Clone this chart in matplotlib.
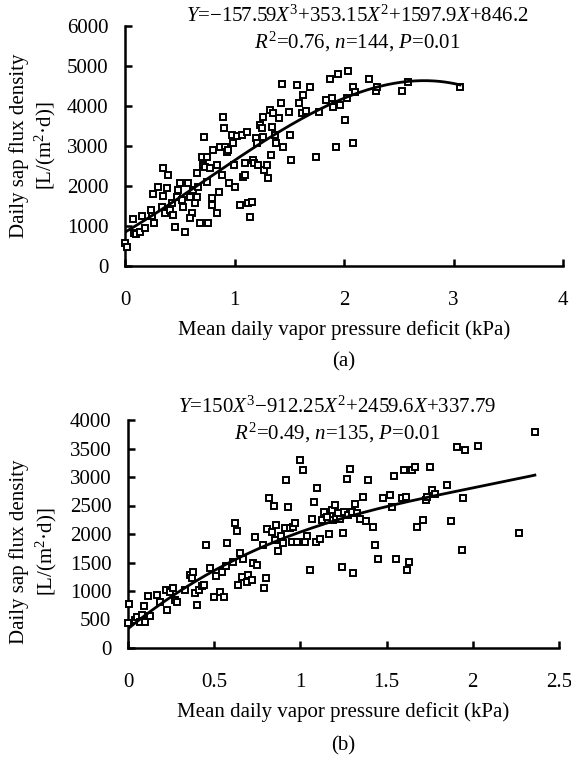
import numpy as np
import matplotlib.pyplot as plt

plt.rcParams['font.family'] = 'Liberation Serif'
plt.rcParams['mathtext.fontset'] = 'custom'
plt.rcParams['mathtext.rm'] = 'Liberation Serif'
plt.rcParams['mathtext.it'] = 'Liberation Serif:italic'
plt.rcParams['font.size'] = 15

# (a) VPD (kPa) и суточный поток сока
vpd_a = [0.000, 0.021, 0.070, 0.082, 0.100, 0.137, 0.152, 0.183, 0.235, 0.244,
         0.268, 0.259, 0.304, 0.344, 0.381, 0.350, 0.396, 0.335, 0.365, 0.411,
         0.426, 0.441, 0.457, 0.472, 0.487, 0.502, 0.518, 0.533, 0.548, 0.578,
         0.594, 0.609, 0.594, 0.624, 0.639, 0.655, 0.670, 0.685, 0.655, 0.700,
         0.710, 0.721, 0.731, 0.746, 0.761, 0.746, 0.776, 0.792, 0.792, 0.807,
         0.837, 0.843, 0.861, 0.868, 0.883, 0.898, 0.904, 0.913, 0.928, 0.944,
         0.953, 0.974, 0.983, 0.995, 1.005, 1.020, 1.050, 1.066, 1.075, 1.096,
         1.096, 1.111, 1.126, 1.142, 1.157, 1.166, 1.178, 1.196, 1.203, 1.218,
         1.233, 1.248, 1.257, 1.263, 1.269, 1.294, 1.309, 1.324, 1.330, 1.340,
         1.354, 1.370, 1.379, 1.409, 1.422, 1.431, 1.446, 1.501, 1.507, 1.519,
         1.568, 1.592, 1.613, 1.628, 1.653, 1.689, 1.744, 1.774, 1.836, 1.872,
         1.887, 1.902, 1.927, 1.948, 1.963, 2.009, 2.039, 2.030, 2.080, 2.085,
         2.100, 2.230, 2.290, 2.300, 2.530, 2.580, 3.060]
flux_a = [580, 470, 1170, 830, 800, 860, 1250, 940, 1400, 1250,
          1070, 1800, 1970, 1750, 1940, 2440, 2280, 1480, 1320, 1400,
          1570, 1280, 980, 1730, 1900, 2070, 1650, 1480, 860, 2070,
          1730, 1320, 1190, 1900, 1570, 1730, 1980, 1070, 2320, 2730,
          2530, 3220, 2480, 2730, 1070, 2110, 2440, 1690, 1530, 2900,
          2530, 1330, 1860, 2980, 2280, 3730, 3440, 2980, 2860, 2900,
          2080, 3280, 3070, 2530, 1970, 3250, 1530, 3280, 2230, 2570,
          2280, 3360, 1570, 1230, 1610, 2650, 2570, 3190, 3070, 2530,
          3520, 3440, 3730, 3220, 2400, 2530, 2190, 3900, 2780, 3480,
          3820, 3280, 3070, 3690, 4070, 4550, 2970, 3840, 3280, 2650,
          4530, 4080, 3830, 4280, 3880, 4480, 2720, 3860, 4150, 4680,
          4210, 3970, 2980, 4800, 4030, 3650, 4880, 4210, 3070, 4470,
          4360, 4680, 4380, 4480, 4380, 4600, 4470]
coef_a = [-157.59, 353.15, 1597.9, 846.2]

# (b)
vpd_b = [0.000, 0.008, 0.041, 0.054, 0.070, 0.079, 0.093, 0.099, 0.118, 0.128,
         0.166, 0.186, 0.220, 0.228, 0.244, 0.263, 0.273, 0.286, 0.331, 0.360,
         0.369, 0.379, 0.389, 0.398, 0.414, 0.427, 0.441, 0.452, 0.476, 0.499,
         0.510, 0.534, 0.543, 0.557, 0.568, 0.576, 0.611, 0.621, 0.630, 0.640,
         0.650, 0.659, 0.669, 0.688, 0.698, 0.717, 0.727, 0.737, 0.750, 0.781,
         0.789, 0.800, 0.805, 0.820, 0.834, 0.847, 0.853, 0.858, 0.872, 0.886,
         0.897, 0.911, 0.916, 0.930, 0.940, 0.950, 0.959, 0.969, 0.979, 1.000,
         1.017, 1.027, 1.040, 1.056, 1.066, 1.079, 1.090, 1.098, 1.114, 1.124,
         1.137, 1.152, 1.168, 1.182, 1.191, 1.201, 1.206, 1.220, 1.230, 1.240,
         1.249, 1.253, 1.269, 1.278, 1.288, 1.297, 1.303, 1.317, 1.326, 1.346,
         1.361, 1.381, 1.394, 1.419, 1.433, 1.452, 1.481, 1.520, 1.530, 1.543,
         1.555, 1.587, 1.601, 1.613, 1.620, 1.632, 1.650, 1.665, 1.678, 1.713,
         1.729, 1.736, 1.752, 1.761, 1.781, 1.852, 1.874, 1.910, 1.935, 1.941,
         1.955, 2.032, 2.270, 2.361]
flux_b = [430, 770, 500, 550, 460, 580, 740, 460, 910, 560,
          930, 810, 1010, 670, 990, 1060, 840, 800, 1020, 1280,
          1220, 1340, 960, 750, 1020, 1080, 1110, 1810, 1400, 900,
          1260, 990, 1340, 890, 1430, 1840, 1510, 2190, 2060, 1110,
          1660, 1250, 1560, 1160, 1280, 1190, 1490, 1950, 1460, 1810,
          1050, 1220, 2080, 2630, 2040, 2490, 1890, 2160, 1710, 1960,
          1840, 2100, 2940, 2480, 2100, 1860, 2130, 2200, 1860, 3300,
          3130, 1860, 1960, 1360, 2260, 2570, 1860, 2800, 1920, 2250,
          2390, 2300, 2000, 2420, 2250, 2510, 2290, 2370, 2260, 1420,
          2020, 2390, 2960, 2330, 3140, 2390, 1320, 2520, 2370, 2260,
          2650, 2230, 2940, 2120, 1800, 1560, 2630, 2680, 2470, 3010,
          1570, 2630, 3130, 2650, 1360, 1510, 3130, 3180, 2120, 2250,
          2600, 2650, 3180, 2770, 2710, 2860, 2230, 3520, 1720, 2630,
          3470, 3540, 2010, 3790]
coef_b = [150, -912.25, 2459.6, 337.79]

eq_a = ['$Y$=\u2212157.59$X^3$+353.15$X^2$+1597.9$X$+846.2',
        '$R^2$=0.76, $n$=144, $P$=0.01']
eq_b = ['$Y$=150$X^3$\u2212912.25$X^2$+2459.6$X$+337.79',
        '$R^2$=0.49, $n$=135, $P$=0.01']

ylab = 'Daily sap flux density\n[L/(m$^2$\u00b7d)]'
xlab = 'Mean daily vapor pressure deficit (kPa)'

fig = plt.figure(figsize=(5.71, 7.6), dpi=100)
ax1 = fig.add_axes([125/571, 1 - 266/760, 438/571, 240/760])
ax2 = fig.add_axes([128/571, 1 - 648/760, 431/571, 228/760])

panels = [
    (ax1, vpd_a, flux_a, coef_a, 3.06, (0, 4), (0, 6000), np.arange(0, 5, 1), np.arange(0, 6001, 1000), ['0', '1', '2', '3', '4']),
    (ax2, vpd_b, flux_b, coef_b, 2.36, (0, 2.5), (0, 4000), np.arange(0, 2.6, 0.5), np.arange(0, 4001, 500), ['0', '0.5', '1', '1.5', '2', '2.5']),
]

for ax, xv, yv, coef, xmax, xl, yl, xt, yt, xtl in panels:
    ax.plot(xv, yv, 's', ms=5, mfc='white', mec='black', mew=1.4, clip_on=False, zorder=3)
    xs = np.linspace(0, xmax, 200)
    ax.plot(xs, np.polyval(coef, xs), color='black', lw=2, zorder=4)
    ax.set_xlim(*xl)
    ax.set_ylim(*yl)
    ax.set_xticks(xt)
    ax.set_xticklabels(xtl)
    ax.set_yticks(yt)
    ax.spines['top'].set_visible(False)
    ax.spines['right'].set_visible(False)
    ax.spines['left'].set_linewidth(1.8)
    ax.spines['bottom'].set_linewidth(1.8)
    ax.tick_params(direction='in', length=5, width=1.8)
    ax.tick_params(axis='x', pad=18)
    ax.tick_params(axis='y', pad=12)
    ax.set_xlabel(xlab, labelpad=7)
    ax.set_ylabel(ylab, linespacing=1.25)

ax1.yaxis.set_label_coords(-0.152, 0.5)
ax2.yaxis.set_label_coords(-0.16, 0.42)

fig.text(357/571, 1 - 16/760, eq_a[0], ha='center', va='center')
fig.text(357/571, 1 - 42/760, eq_a[1], ha='center', va='center')
fig.text(337/571, 1 - 407/760, eq_b[0], ha='center', va='center')
fig.text(337/571, 1 - 433/760, eq_b[1], ha='center', va='center')
fig.text(344/571, 1 - 362/760, '(a)', ha='center', va='center')
fig.text(343/571, 1 - 746/760, '(b)', ha='center', va='center')

fig.savefig('out.png', dpi=100)
